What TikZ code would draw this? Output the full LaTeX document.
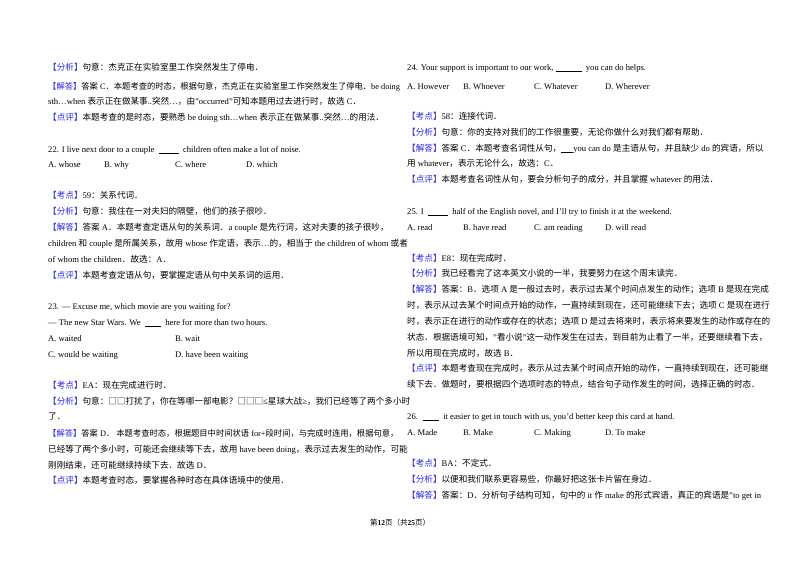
\documentclass[tikz,border=0pt]{standalone}
\usepackage{fontspec}
\setmainfont{Liberation Serif}
\newfontfamily\cjk{Noto Sans CJK SC}
\XeTeXinterchartokenstate=1
\newXeTeXintercharclass\cjkclass
\newcount\cc
\cc="4E00 \loop\ifnum\cc<"9FFF \XeTeXcharclass\cc=\cjkclass \advance\cc 1 \repeat
\cc="3000 \loop\ifnum\cc<"3040 \XeTeXcharclass\cc=\cjkclass \advance\cc 1 \repeat
\cc="FF00 \loop\ifnum\cc<"FFF0 \XeTeXcharclass\cc=\cjkclass \advance\cc 1 \repeat
\XeTeXcharclass"25A1=\cjkclass
\XeTeXinterchartoks 0 \cjkclass={\cjk}
\XeTeXinterchartoks 4095 \cjkclass={\cjk}
\XeTeXinterchartoks \cjkclass 0={\rmfamily}
\XeTeXinterchartoks \cjkclass 4095={\rmfamily}
\definecolor{lab}{RGB}{40,40,220}
\newcommand{\tg}[1]{{\color{lab}【#1】}}
\newcommand{\bl}[1]{\underline{\hspace{#1pt}}}
\tikzset{ln/.style={anchor=base west,inner sep=0pt,font=\fontsize{8.6}{10}\selectfont},
  lnt/.style={ln,font=\fontsize{8.3}{10}\selectfont}}
\newcommand{\Ln}[3]{\node[ln] at (#1,#2) {#3};}
\newcommand{\Lt}[3]{\node[lnt] at (#1,#2) {#3};}
\begin{document}
\begin{tikzpicture}[x=1pt,y=-1pt]
\fill[white] (0,0) rectangle (800,565);
\useasboundingbox (0,0) rectangle (800,565);
% left column
\Ln{48}{70}{\tg{分析}句意：杰克正在实验室里工作突然发生了停电．}
\Lt{48}{89}{\tg{解答}答案 C．本题考查的时态，根据句意，杰克正在实验室里工作突然发生了停电．be doing}
\Ln{48}{104}{sth…when 表示正在做某事..突然…，由"occurred"可知本题用过去进行时，故选 C．}
\Ln{48}{120}{\tg{点评}本题考查的是时态，要熟悉 be doing sth…when 表示正在做某事..突然…的用法．}
\Ln{48}{152}{22. I live next door to a couple \ \bl{20}\ \ children often make a lot of noise.}
\Ln{48}{167}{A. whose}\Ln{104}{167}{B. why}\Ln{175}{167}{C. where}\Ln{246}{167}{D. which}
\Ln{48}{198}{\tg{考点}59：关系代词．}
\Ln{48}{214}{\tg{分析}句意：我住在一对夫妇的隔壁，他们的孩子很吵．}
\Ln{48}{230}{\tg{解答}答案 A．本题考查定语从句的关系词．a couple 是先行词，这对夫妻的孩子很吵，}
\Ln{48}{246}{children 和 couple 是所属关系，故用 whose 作定语，表示…的，相当于 the children of whom 或者}
\Ln{48}{262}{of whom the children．故选：A．}
\Ln{48}{278}{\tg{点评}本题考查定语从句，要掌握定语从句中关系词的运用．}
\Ln{48}{309}{23. --- Excuse me, which movie are you waiting for?}
\Ln{48}{325}{--- The new Star Wars. We \ \bl{16}\ \ here for more than two hours.}
\Ln{48}{341}{A. waited}\Ln{175}{341}{B. wait}
\Ln{48}{357}{C. would be waiting}\Ln{175}{357}{D. have been waiting}
\Ln{48}{388}{\tg{考点}EA：现在完成进行时．}
\Ln{48}{404}{\tg{分析}句意：□□打扰了，你在等哪一部电影？□□□≤星球大战≥，我们已经等了两个多小时}
\Ln{48}{419}{了．}
\Lt{48}{436}{\tg{解答}答案 D．\ 本题考查时态，根据题目中时间状语 for+段时间，与完成时连用，根据句意，}
\Ln{48}{452}{已经等了两个多小时，可能还会继续等下去，故用 have been doing，表示过去发生的动作，可能}
\Ln{48}{468}{刚刚结束，还可能继续持续下去．故选 D．}
\Ln{48}{483}{\tg{点评}本题考查时态，要掌握各种时态在具体语境中的使用．}
% right column
\Ln{407}{70}{24. Your support is important to our work, \bl{26}\ \ you can do helps.}
\Ln{407}{89}{A. However}\Ln{463}{89}{B. Whoever}\Ln{534}{89}{C. Whatever}\Ln{605}{89}{D. Wherever}
\Ln{407}{119}{\tg{考点}58：连接代词．}
\Ln{407}{135}{\tg{分析}句意：你的支持对我们的工作很重要，无论你做什么对我们都有帮助．}
\Ln{407}{151}{\tg{解答}答案 C．本题考查名词性从句，\bl{12}you can do 是主语从句，并且缺少 do\ 的宾语，所以}
\Ln{407}{166}{用 whatever，表示无论什么，故选：C．}
\Ln{407}{182}{\tg{点评}本题考查名词性从句，要会分析句子的成分，并且掌握 whatever 的用法．}
\Ln{407}{214}{25. I \ \bl{20}\ \ half of the English novel, and I'll try to finish it at the weekend.}
\Ln{407}{230}{A. read}\Ln{463}{230}{B. have read}\Ln{534}{230}{C. am reading}\Ln{605}{230}{D. will read}
\Ln{407}{261}{\tg{考点}E8：现在完成时．}
\Ln{407}{276}{\tg{分析}我已经看完了这本英文小说的一半，我要努力在这个周末读完．}
\Ln{407}{292}{\tg{解答}答案：B．选项 A 是一般过去时，表示过去某个时间点发生的动作；选项 B 是现在完成}
\Ln{407}{308}{时，表示从过去某个时间点开始的动作，一直持续到现在，还可能继续下去；选项 C 是现在进行}
\Ln{407}{324}{时，表示正在进行的动作或存在的状态；选项 D 是过去将来时，表示将来要发生的动作或存在的}
\Ln{407}{340}{状态．根据语境可知，"看小说"这一动作发生在过去，到目前为止看了一半，还要继续看下去，}
\Ln{407}{356}{所以用现在完成时，故选 B．}
\Ln{407}{371}{\tg{点评}本题考查现在完成时，表示从过去某个时间点开始的动作，一直持续到现在，还可能继}
\Ln{407}{387}{续下去．做题时，要根据四个选项时态的特点，结合句子动作发生的时间，选择正确的时态．}
\Ln{407}{419}{26. \ \bl{16}\ \ it easier to get in touch with us, you'd better keep this card at hand.}
\Ln{407}{435}{A. Made}\Ln{463}{435}{B. Make}\Ln{534}{435}{C. Making}\Ln{605}{435}{D. To make}
\Ln{407}{466}{\tg{考点}BA：不定式．}
\Ln{407}{482}{\tg{分析}以便和我们联系更容易些，你最好把这张卡片留在身边．}
\Ln{407}{498}{\tg{解答}答案：D．分析句子结构可知，句中的 it 作 make 的形式宾语，真正的宾语是"to get in}
\node[anchor=base,inner sep=0pt,font=\fontsize{7.5}{9}\selectfont] (ft) at (400,525) {第\textbf{12}页（共\textbf{25}页）};
\end{tikzpicture}
\end{document}
